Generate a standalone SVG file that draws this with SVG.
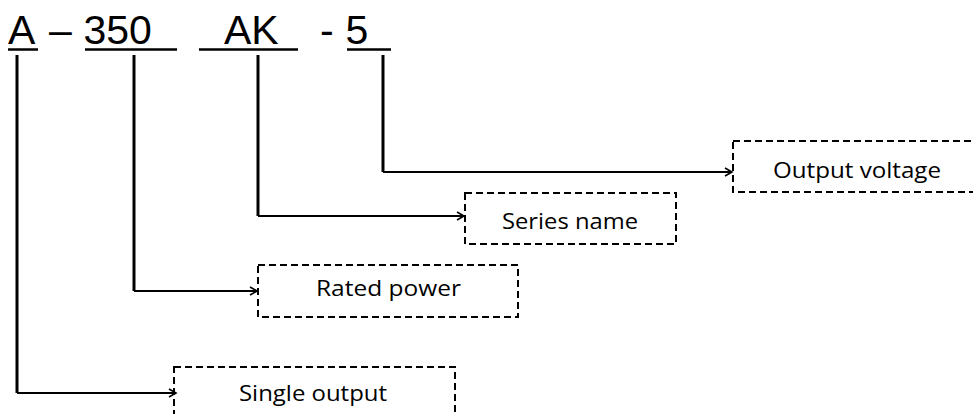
<svg xmlns="http://www.w3.org/2000/svg" width="973" height="414" viewBox="0 0 973 414">
<style>
.code{font-family:"Liberation Sans",Arial,sans-serif;font-size:41px;fill:#000}
.lbl{font-family:"Open Sans","Liberation Sans",sans-serif;font-size:21px;fill:#000}
.box{fill:none;stroke:#000;stroke-width:2;stroke-dasharray:7 4}
.ul{stroke:#000;stroke-width:2.5}
.v{fill:none;stroke:#000;stroke-width:3}
.h{fill:none;stroke:#000;stroke-width:2;marker-end:url(#arr)}
</style>
<defs>
<marker id="arr" markerUnits="userSpaceOnUse" markerWidth="12" markerHeight="12" refX="8" refY="5" orient="auto" viewBox="0 0 12 10">
<path d="M1,1 L8,5 L1,9" fill="none" stroke="#000" stroke-width="1.6"/>
</marker>
</defs>
<g id="title">
<text class="code" x="8" y="44">A</text>
<text class="code" x="49" y="44">–</text>
<text class="code" x="83.5" y="44">350</text>
<text class="code" x="224" y="44">AK</text>
<text class="code" x="320" y="44">-</text>
<text class="code" x="345.5" y="44">5</text>
<line class="ul" x1="8" y1="49.5" x2="38" y2="49.5"/>
<line class="ul" x1="85" y1="49.5" x2="177" y2="49.5"/>
<line class="ul" x1="199" y1="49.5" x2="298" y2="49.5"/>
<line class="ul" x1="347" y1="49.5" x2="391" y2="49.5"/>
</g>
<g id="connectors">
<path class="v" d="M17,55 V393"/>
<path class="h" d="M17,393 H176"/>
<path class="v" d="M134,55 V291"/>
<path class="h" d="M134,291 H257"/>
<path class="v" d="M258,55 V216"/>
<path class="h" d="M258,216 H464"/>
<path class="v" d="M383,55 V172"/>
<path class="h" d="M383,172 H732"/>
</g>
<g id="node-output-voltage">
<rect class="box" x="733" y="141" width="250" height="51"/>
<text class="lbl" x="773" y="178" textLength="168" lengthAdjust="spacingAndGlyphs">Output voltage</text>
</g>
<g id="node-series-name">
<rect class="box" x="465" y="193" width="211" height="51"/>
<text class="lbl" x="502" y="229" textLength="136" lengthAdjust="spacingAndGlyphs">Series name</text>
</g>
<g id="node-rated-power">
<rect class="box" x="258" y="265" width="260" height="52"/>
<text class="lbl" x="316" y="296" textLength="145" lengthAdjust="spacingAndGlyphs">Rated power</text>
</g>
<g id="node-single-output">
<rect class="box" x="174" y="367" width="281" height="52"/>
<text class="lbl" x="239" y="401" textLength="148" lengthAdjust="spacingAndGlyphs">Single output</text>
</g>
</svg>
